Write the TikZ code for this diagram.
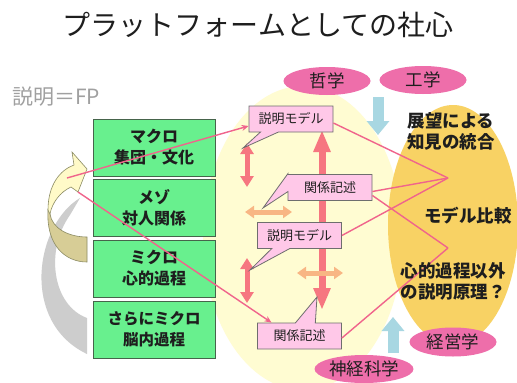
\documentclass[tikz,border=0pt]{standalone}
\usepackage{fontspec}
\setmainfont{Noto Sans CJK JP}
\usetikzlibrary{arrows.meta,shapes.callouts,shapes.geometric}
\definecolor{boxgreen}{RGB}{104,240,142}
\definecolor{boxborder}{RGB}{70,100,75}
\definecolor{lightyel}{RGB}{255,252,210}
\definecolor{orangebg}{RGB}{248,210,100}
\definecolor{pinkfill}{RGB}{238,110,170}
\definecolor{callfill}{RGB}{255,200,232}
\definecolor{callborder}{RGB}{110,110,110}
\definecolor{redarrow}{RGB}{246,118,128}
\definecolor{orangearrow}{RGB}{248,182,132}
\definecolor{bluearrow}{RGB}{168,215,226}
\definecolor{pinkline}{RGB}{240,100,140}
\definecolor{textdark}{RGB}{30,30,30}
\definecolor{graytext}{RGB}{160,160,160}
\definecolor{shadowgray}{RGB}{205,205,205}
\definecolor{arrowyel}{RGB}{255,250,200}
\definecolor{arrowkhaki}{RGB}{215,205,150}
\definecolor{arrowedge}{RGB}{140,140,100}
\begin{document}
\begin{tikzpicture}[x=1pt,y=-1pt,
  greenbox/.style={draw=boxborder, fill=boxgreen, line width=0.8pt, minimum width=122pt,
    minimum height=57pt, inner sep=0pt, align=center, text=textdark,
    font=\fontsize{16}{21}\selectfont\bfseries},
  pinkell/.style={ellipse, fill=pinkfill, minimum width=87pt, minimum height=28pt,
    inner sep=0pt, text=textdark, font=\fontsize{17.5}{20}\selectfont},
  callbox/.style={rectangle callout, draw=callborder, fill=callfill, line width=0.8pt,
    minimum width=84pt, minimum height=26pt, inner sep=0pt, text=textdark,
    callout pointer width=18pt, font=\fontsize{13}{15}\selectfont},
  sidetext/.style={align=center, text=textdark, font=\fontsize{17.5}{21}\selectfont\bfseries},
  redarr/.style={draw=redarrow, line width=5pt,
    {Triangle[width=13pt,length=11pt]}-{Triangle[width=13pt,length=11pt]}},
  bigredarr/.style={draw=redarrow, line width=7pt,
    {Triangle[width=16pt,length=22pt]}-{Triangle[width=16pt,length=22pt]}},
  orarr/.style={draw=orangearrow, line width=5pt,
    {Triangle[width=12pt,length=9pt]}-{Triangle[width=12pt,length=9pt]}},
  bluearr/.style={draw=bluearrow, line width=11pt, -{Triangle[width=22pt,length=14pt]}},
  link/.style={draw=pinkline, line width=1.4pt},
  linkarr/.style={link, -{Stealth[length=7pt,width=6pt]}}
]
\useasboundingbox (0,0) rectangle (517,383);
\fill[white] (0,0) rectangle (517,383);

% background ellipses
\fill[lightyel] (303,238) ellipse [x radius=100pt, y radius=152pt];
\fill[orangebg] (453,225) ellipse [x radius=65pt, y radius=120pt];

% title and label
\node[text=textdark, font=\fontsize{28}{32}\selectfont] (title) at (258,25) {プラットフォームとしての社心};
\node[anchor=west, inner sep=0pt, text=graytext, font=\fontsize{21}{24}\selectfont] (fp) at (12,97) {説明＝FP};

% gray shadow arc
\fill[shadowgray] (80,198) .. controls (35,225) and (20,322) .. (87,354)
  -- (87,318) .. controls (52,305) and (45,250) .. (70,215) -- cycle;

% green boxes
\node[greenbox] (macro) at (154,147.5) {マクロ\\集団・文化};
\node[greenbox] (meso) at (154,207.5) {メゾ\\対人関係};
\node[greenbox] (micro) at (154,268.5) {ミクロ\\心的過程};
\node[greenbox, font=\fontsize{15.5}{21}\selectfont\bfseries] (brain) at (154,329.5) {さらにミクロ\\脳内過程};

% curved arrow
\filldraw[fill=arrowkhaki, draw=arrowedge, line width=0.6pt]
  (48,210) .. controls (46,245) and (65,262) .. (87,262) -- (87,237)
  .. controls (68,237) and (52,228) .. (50,214) -- cycle;
\filldraw[fill=arrowyel, draw=arrowedge, line width=0.6pt]
  (48,210) .. controls (48,185) and (60,170) .. (74,165) -- (72,152) -- (87,169)
  -- (78,192) -- (71,187) .. controls (60,192) and (52,203) .. (50,214) -- cycle;
\coordinate (cv1) at (67,178);
\coordinate (cv2) at (78,192);

% blue arrows
\coordinate (bd1) at (378,97);
\coordinate (bd2) at (378,135);
\coordinate (bu1) at (393,353);
\coordinate (bu2) at (393,317);
\draw[bluearr] (bd1) -- (bd2);
\draw[bluearr] (bu1) -- (bu2);

% red and orange arrows
\coordinate (r1a) at (247,143);
\coordinate (r1b) at (247,187);
\coordinate (r2a) at (247,258);
\coordinate (r2b) at (247,303);
\coordinate (rca) at (322,130);
\coordinate (rcb) at (322,310);
\coordinate (o1a) at (245,212);
\coordinate (o1b) at (292,212);
\coordinate (o2a) at (297,273);
\coordinate (o2b) at (343,273);
\draw[redarr] (r1a) -- (r1b);
\draw[redarr] (r2a) -- (r2b);
\draw[bigredarr] (rca) -- (rcb);
\draw[orarr] (o1a) -- (o1b);
\draw[orarr] (o2a) -- (o2b);

% convergence points and links (behind callouts)
\coordinate (A) at (448,178);
\coordinate (B) at (448,248);

% callouts
\node[callbox, callout absolute pointer={(243,148)}] (C1) at (291,119) {説明モデル};
\node[callbox, callout absolute pointer={(263,208)}] (R1) at (330,187.5) {関係記述};
\node[callbox, callout absolute pointer={(250,270)}] (C2) at (299.5,235.5) {説明モデル};
\node[callbox, callout absolute pointer={(317,297)}, callout pointer width=20pt] (R2) at (299.5,336) {関係記述};

\draw[link] ([yshift=-4pt]C1.east) -- (A);
\draw[link] ([yshift=-4pt]R1.east) -- (A);
\draw[link] (C2.east) -- (A);
\draw[link] ([yshift=-8pt]R1.east) -- (B);
\draw[link] ([yshift=-2pt]R2.east) -- (B);
\draw[linkarr] (cv1) -- ([yshift=-7pt]C1.west);
\draw[linkarr] (cv2) -- ([xshift=-28pt]R2.north);

% pink ellipses
\node[pinkell] (phil) at (327,81) {哲学};
\node[pinkell] (eng) at (423,80) {工学};
\node[pinkell, minimum height=29pt] (mgmt) at (453,342) {経営学};
\node[pinkell, minimum width=97pt, minimum height=28pt] (neuro) at (364,369) {神経科学};

% side texts
\node[sidetext] (integ) at (451,131.5) {展望による\\知見の統合};
\node[sidetext] (comp) at (468,216) {モデル比較};
\node[sidetext] (other) at (453,281) {心的過程以外\\の説明原理？};
\end{tikzpicture}
\end{document}
